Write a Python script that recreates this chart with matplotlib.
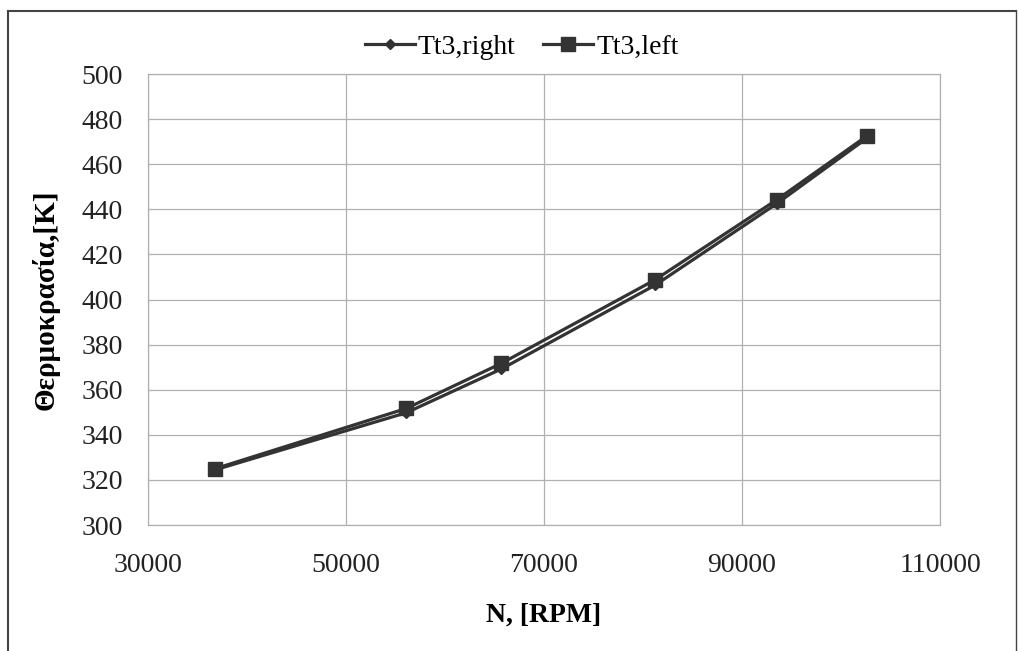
import matplotlib
matplotlib.use("Agg")
import matplotlib.pyplot as plt
from matplotlib.lines import Line2D

rpm = [36800, 56100, 65700, 81200, 93500, 102600]
tt3_right = [324.5, 349.8, 369.2, 406.3, 442.5, 471.5]
tt3_left = [325.0, 351.7, 371.7, 408.7, 444.2, 472.5]

x_ticks = [30000, 50000, 70000, 90000, 110000]
y_ticks = [300, 320, 340, 360, 380, 400, 420, 440, 460, 480, 500]

plt.rcParams['font.family'] = ['Liberation Serif', 'DejaVu Serif']

fig = plt.figure(figsize=(10.2, 6.51), dpi=100)
ax = fig.add_axes([0.145, 0.1935, 0.7766, 0.6928])

col = '#333333'
ax.plot(rpm, tt3_right, color=col, lw=2.3, marker='D', markersize=5.5,
        label='Tt3,right', zorder=3)
ax.plot(rpm, tt3_left, color=col, lw=2.3, marker='s', markersize=9.5,
        label='Tt3,left', zorder=3)

ax.set_xlim(30000, 110000)
ax.set_ylim(300, 500)
ax.set_xticks(x_ticks)
ax.set_yticks(y_ticks)
ax.tick_params(axis='both', length=0, labelsize=20, colors='#222222')
ax.tick_params(axis='y', pad=18)
ax.tick_params(axis='x', pad=20)
ax.grid(True, color='#b0b0b0', lw=0.9)
ax.set_axisbelow(True)
for s in ax.spines.values():
    s.set_color('#b0b0b0')
    s.set_linewidth(0.9)

ax.set_xlabel('N, [RPM]', fontsize=20, fontweight='bold', labelpad=18)
ax.set_ylabel('Θερμοκρασία,[K]', fontsize=21, fontweight='bold', labelpad=16)

ax.legend(loc='center', bbox_to_anchor=(0.472, 1 + 27/451), ncol=2, frameon=False,
          fontsize=20, handlelength=1.8, columnspacing=1.0, handletextpad=0.1,
          borderaxespad=0.0)

# outer frame
fig.add_artist(Line2D([8/1020, 8/1020], [0, 1 - 11/651], transform=fig.transFigure, color='#444444', lw=1.5))
fig.add_artist(Line2D([8/1020, 1016/1020], [1 - 11/651, 1 - 11/651], transform=fig.transFigure, color='#444444', lw=1.5))
fig.add_artist(Line2D([1016/1020, 1016/1020], [0, 1 - 11/651], transform=fig.transFigure, color='#444444', lw=1.0))

fig.savefig('out.png', dpi=100)
